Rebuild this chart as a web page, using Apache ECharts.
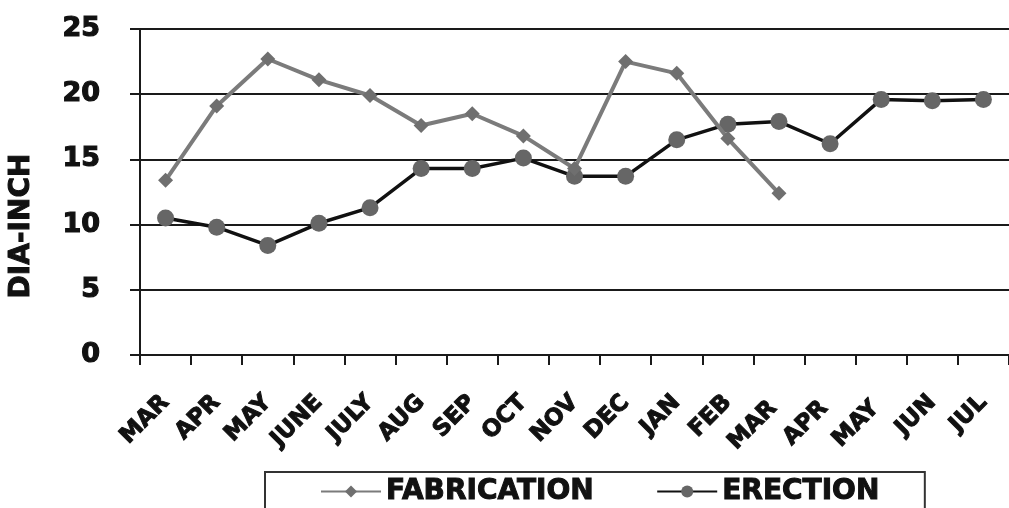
<!DOCTYPE html>
<html>
<head>
<meta charset="utf-8">
<script src="https://cdn.jsdelivr.net/npm/echarts@6/dist/echarts.min.js"></script>
<style>
  html, body { margin: 0; padding: 0; background: #fff; }
  #chart { width: 1009px; height: 508px; }
</style>
</head>
<body>
<div id="chart"></div>
<script>
// months on the x axis
var months = ['MAR', 'APR', 'MAY', 'JUNE', 'JULY', 'AUG', 'SEP', 'OCT', 'NOV', 'DEC',
  'JAN', 'FEB', 'MAR ', 'APR ', 'MAY ', 'JUN', 'JUL']
// DIA-INCH values
var fabrication = [13.4, 19.1, 22.7, 21.1, 19.9, 17.6, 18.5, 16.8, 14.3, 22.5, 21.6, 16.6, 12.4]
var erection = [10.5, 9.8, 8.4, 10.1, 11.3, 14.3, 14.3, 15.1, 13.7, 13.7, 16.5, 17.7, 17.9,
  16.2, 19.6, 19.5, 19.6]
var yTicks = [0, 5, 10, 15, 20, 25]

var font = 'DejaVu Sans'
var axisColor = '#1a1a1a'
var textColor = '#111'

var myChart = echarts.init(document.getElementById('chart'))
var option = {
  animation: false,
  backgroundColor: '#fff',
  grid: {
    left: 140,
    right: -3,
    top: 29,
    bottom: 153
  },
  legend: {
    left: 265,
    top: 472,
    padding: [5, 45, 20, 55],
    borderColor: '#333',
    borderWidth: 2,
    itemWidth: 60,
    itemHeight: 15,
    itemGap: 62,
    textStyle: {
      fontFamily: font,
      fontWeight: 900,
      fontSize: 28,
      color: textColor,
      textBorderColor: textColor,
      textBorderWidth: 1
    },
    data: ['FABRICATION', 'ERECTION']
  },
  graphic: [{
    type: 'text',
    x: 22,
    y: 226,
    rotation: Math.PI / 2,
    style: {
      text: 'DIA-INCH',
      fontFamily: font,
      fontWeight: 900,
      fontSize: 28,
      fill: textColor,
      stroke: textColor,
      lineWidth: 1,
      align: 'center',
      verticalAlign: 'middle'
    }
  }],
  xAxis: {
    type: 'category',
    data: months,
    boundaryGap: true,
    axisLine: { lineStyle: { color: axisColor, width: 2 } },
    axisTick: { show: true, length: 10, lineStyle: { color: axisColor, width: 2 } },
    axisLabel: {
      interval: 0,
      rotate: 45,
      margin: 44,
      fontFamily: font,
      fontWeight: 900,
      fontSize: 23,
      color: textColor,
      textBorderColor: textColor,
      textBorderWidth: 1
    },
    splitLine: { show: false }
  },
  yAxis: {
    type: 'value',
    min: yTicks[0],
    max: yTicks[yTicks.length - 1],
    interval: 5,
    axisLine: { show: true, lineStyle: { color: axisColor, width: 2 } },
    axisTick: { show: true, length: 10, lineStyle: { color: axisColor, width: 2 } },
    axisLabel: {
      margin: 40,
      fontFamily: font,
      fontWeight: 900,
      fontSize: 27,
      color: textColor,
      textBorderColor: textColor,
      textBorderWidth: 1.2
    },
    splitLine: { show: true, lineStyle: { color: axisColor, width: 2 } }
  },
  series: [{
    name: 'FABRICATION',
    type: 'line',
    data: fabrication,
    symbol: 'diamond',
    symbolSize: 15,
    lineStyle: { color: '#7b7b7b', width: 4 },
    itemStyle: { color: '#6f6f6f' },
    z: 3
  }, {
    name: 'ERECTION',
    type: 'line',
    data: erection,
    symbol: 'circle',
    symbolSize: 17,
    lineStyle: { color: '#111', width: 3.5 },
    itemStyle: { color: '#666' },
    z: 2
  }]
}
myChart.setOption(option)
</script>
</body>
</html>
